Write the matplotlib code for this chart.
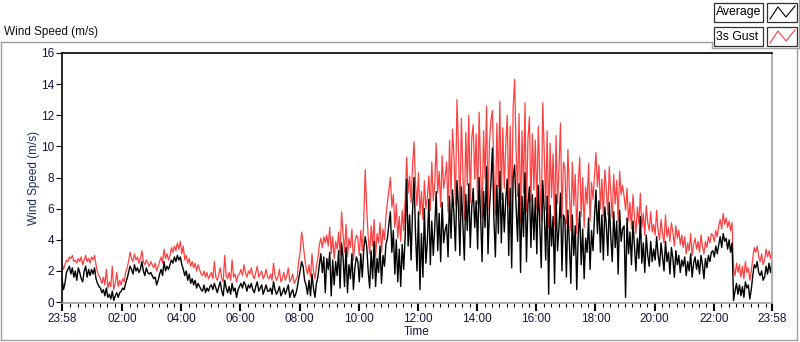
import numpy as np
import matplotlib.pyplot as plt
from matplotlib.lines import Line2D
from matplotlib.patches import Rectangle

plt.rcParams['font.family'] = ['Liberation Sans', 'DejaVu Sans']

# 3 minute samples starting at 23:58, one row per hour
gust = [
    2.5, 2.1, 2.4, 2.7, 2.6, 2.9, 2.8, 3.0, 2.6, 2.7, 2.5, 2.8, 2.6, 2.9, 2.4, 2.7, 3.0, 2.6, 2.8, 2.5,
    2.9, 2.7, 3.0, 2.4, 1.9, 1.7, 1.5, 1.2, 1.6, 1.1, 2.1, 0.9, 1.3, 1.0, 2.3, 0.8, 1.2, 1.9, 1.0, 1.4,
    1.1, 1.5, 1.3, 1.9, 2.2, 2.6, 3.2, 2.8, 2.6, 3.1, 2.7, 2.9, 2.5, 2.8, 3.3, 2.6, 2.4, 2.7, 2.5, 2.3,
    2.6, 2.4, 2.2, 2.5, 2.0, 2.3, 2.6, 2.9, 2.5, 3.4, 2.8, 3.1, 2.7, 3.0, 3.5, 3.2, 3.6, 3.3, 3.8, 3.4,
    3.9, 3.1, 3.6, 2.7, 3.0, 2.5, 2.8, 2.3, 2.6, 2.2, 2.5, 2.0, 2.4, 2.1, 1.8, 1.7, 2.0, 1.6, 1.9, 1.5,
    1.7, 1.9, 1.5, 2.6, 1.6, 1.4, 1.8, 2.2, 1.5, 1.3, 3.0, 1.7, 1.5, 1.9, 1.4, 2.7, 1.6, 1.8, 1.3, 1.7,
    1.8, 2.1, 1.7, 2.4, 1.9, 1.6, 2.0, 1.8, 2.2, 1.7, 1.5, 1.9, 2.3, 1.6, 1.8, 2.0, 1.5, 1.7, 2.1, 1.6,
    1.5, 1.8, 1.4, 2.5, 1.7, 1.4, 1.6, 2.1, 1.3, 1.5, 1.9, 1.4, 1.7, 2.2, 1.3, 1.5, 1.8, 1.2, 1.4, 1.6,
    2.6, 3.2, 4.5, 3.8, 2.9, 2.2, 1.8, 2.4, 1.6, 3.1, 2.0, 1.5, 2.3, 2.8, 3.7, 4.1, 3.5, 4.2, 3.8, 4.3,
    3.6, 4.8, 3.1, 4.2, 2.8, 3.9, 3.4, 4.5, 3.0, 5.8, 4.4, 3.2, 5.0, 2.9, 4.1, 3.5, 4.7, 2.7, 3.8, 4.3,
    4.1, 3.0, 4.6, 3.3, 5.2, 8.5, 6.0, 4.2, 3.1, 4.9, 3.6, 5.3, 2.9, 4.4, 3.8, 5.1, 3.2, 4.7, 4.0, 5.5,
    6.4, 7.2, 8.0, 6.1, 6.9, 4.8, 6.3, 4.1, 5.5, 3.9, 5.9, 4.6, 6.6, 9.3, 7.0, 8.1, 6.4, 8.8, 10.3, 7.6,
    6.2, 8.3, 5.6, 7.1, 5.3, 7.8, 6.0, 6.7, 8.1, 5.9, 9.0, 6.5, 7.6, 10.2, 7.0, 8.4, 6.1, 9.4, 7.3, 8.0,
    9.0, 5.8, 10.4, 6.9, 11.1, 9.3, 6.2, 13.0, 10.0, 5.6, 11.8, 8.4, 5.3, 10.9, 7.5, 12.0, 6.4, 10.5, 11.4, 7.9,
    10.8, 6.3, 12.2, 8.5, 5.4, 11.0, 7.9, 12.6, 5.9, 10.3, 11.7, 12.3, 8.2, 5.6, 11.5, 7.4, 12.9, 6.6, 11.2, 7.3,
    10.1, 12.0, 6.2, 11.3, 5.3, 12.5, 14.3, 9.7, 6.8, 12.1, 5.1, 11.0, 7.0, 12.8, 5.8, 10.5, 11.9, 6.4, 10.8, 7.2,
    10.4, 6.0, 11.3, 8.1, 5.2, 12.8, 9.7, 5.9, 11.0, 4.8, 10.2, 6.7, 9.5, 4.9, 10.7, 6.3, 8.6, 11.5, 5.4, 9.0,
    8.6, 5.0, 9.8, 7.1, 4.6, 9.0, 6.2, 8.2, 4.4, 7.6, 9.3, 5.5, 8.0, 4.8, 7.4, 6.3, 8.9, 5.2, 7.7, 6.6,
    8.1, 9.6, 7.4, 8.8, 6.0, 7.9, 5.5, 8.5, 7.2, 5.6, 8.7, 7.0, 5.4, 8.2, 6.3, 7.8, 5.2, 8.4, 6.9, 7.5,
    6.8, 5.9, 7.3, 5.2, 6.4, 4.7, 6.9, 5.5, 4.4, 6.1, 5.0, 7.0, 4.8, 5.7, 4.3, 6.2, 5.1, 4.6, 5.8, 4.5,
    5.0, 4.3, 5.9, 4.6, 4.0, 5.3, 4.4, 3.8, 5.6, 4.2, 4.8, 3.9, 5.1, 4.5, 3.6, 4.9, 4.1, 4.6, 3.7, 4.3,
    3.5, 4.2, 3.1, 3.8, 3.3, 4.4, 3.0, 3.7, 4.1, 3.4, 3.9, 3.2, 4.3, 3.6, 3.1, 3.9, 3.5, 4.2, 3.8, 4.4,
    4.3, 3.9, 4.6, 4.2, 4.9, 5.3, 4.7, 5.7, 5.0, 5.4, 4.8, 5.2, 4.6, 5.1, 2.2, 1.7, 2.5, 1.9, 2.4, 1.6,
    2.3, 1.5, 2.6, 1.9, 2.2, 1.4, 2.0, 2.8, 3.5, 3.2, 3.6, 2.9, 2.6, 3.1, 2.4, 2.7, 3.4, 2.9, 3.3, 2.8,
    3.2,
]
average = [
    1.5, 0.8, 1.2, 1.9, 2.1, 2.3, 1.8, 2.2, 1.6, 2.0, 1.4, 2.2, 1.9, 1.5, 1.3, 2.0, 2.3, 1.6, 2.1, 1.7,
    2.1, 1.8, 2.2, 1.5, 1.2, 1.0, 0.9, 0.6, 0.8, 0.4, 0.9, 0.3, 0.5, 0.2, 0.7, 0.1, 0.4, 0.6, 0.3, 0.6,
    0.7, 0.9, 0.8, 1.2, 1.5, 1.9, 2.3, 2.1, 1.8, 2.4, 2.0, 2.2, 1.9, 2.1, 2.6, 2.0, 1.7, 2.2, 1.9, 1.8,
    1.9, 1.7, 1.5, 1.6, 1.1, 1.4, 1.8, 2.1, 1.7, 2.6, 2.0, 2.3, 2.1, 2.4, 2.7, 2.5, 2.9, 2.6, 3.0, 2.7,
    2.9, 2.4, 2.1, 1.7, 2.0, 1.4, 1.8, 1.2, 1.5, 1.1, 1.4, 0.9, 1.2, 1.0, 0.8, 0.7, 1.1, 0.6, 0.9, 0.7,
    1.0, 1.1, 0.8, 1.2, 0.9, 0.6, 1.0, 1.3, 0.7, 0.4, 1.4, 0.9, 0.6, 1.0, 0.5, 1.2, 0.7, 0.9, 0.3, 0.8,
    1.0, 1.2, 0.9, 1.3, 1.1, 0.7, 1.1, 0.9, 1.2, 0.8, 0.6, 1.0, 1.3, 0.7, 0.9, 1.1, 0.5, 0.8, 1.1, 0.7,
    0.7, 0.9, 0.5, 1.3, 0.8, 0.5, 0.7, 1.0, 0.4, 0.6, 0.9, 0.5, 0.8, 1.1, 0.3, 0.6, 0.8, 0.3, 0.5, 0.9,
    1.5, 2.0, 2.6, 2.3, 1.4, 1.1, 0.5, 1.4, 0.4, 1.8, 0.9, 0.3, 1.2, 1.6, 2.4, 3.1, 1.9, 2.9, 0.6, 2.8,
    2.1, 3.2, 0.4, 2.7, 1.1, 2.6, 1.7, 3.3, 0.9, 3.8, 2.9, 1.0, 3.5, 0.6, 2.4, 1.5, 3.1, 0.8, 2.2, 2.9,
    2.6, 1.3, 3.1, 1.6, 3.4, 4.2, 3.6, 2.0, 0.9, 3.3, 1.5, 3.9, 1.0, 2.8, 1.9, 3.6, 1.2, 3.0, 2.3, 3.7,
    4.1, 5.0, 5.8, 3.2, 4.6, 1.8, 4.0, 1.3, 3.4, 1.0, 3.7, 2.1, 4.2, 7.9, 3.6, 5.6, 2.7, 5.9, 8.0, 4.4,
    2.0, 5.8, 0.8, 4.4, 1.6, 6.0, 2.5, 3.9, 6.6, 2.4, 5.2, 3.0, 4.8, 7.1, 3.3, 5.7, 2.6, 6.4, 3.8, 4.6,
    5.0, 2.9, 6.8, 4.1, 7.2, 5.6, 3.3, 7.8, 6.2, 3.0, 7.4, 5.1, 2.7, 6.9, 4.6, 7.6, 3.5, 6.1, 7.3, 4.8,
    6.5, 3.4, 8.0, 5.5, 2.6, 7.1, 4.8, 8.7, 3.1, 6.0, 7.7, 9.9, 5.3, 2.9, 7.5, 4.4, 8.4, 3.8, 7.0, 4.5,
    6.6, 7.9, 3.0, 7.3, 2.2, 8.0, 8.8, 6.1, 3.9, 7.6, 1.9, 6.8, 4.2, 8.3, 2.6, 6.3, 7.4, 3.5, 6.9, 4.0,
    6.7, 3.1, 7.5, 5.0, 2.2, 7.8, 5.9, 2.7, 6.8, 0.5, 6.2, 3.6, 5.5, 1.2, 6.9, 3.3, 4.8, 7.0, 2.0, 5.6,
    5.3, 1.6, 5.9, 3.8, 1.2, 5.6, 3.0, 4.9, 0.8, 4.3, 5.8, 2.4, 4.7, 1.5, 4.1, 3.2, 5.4, 2.1, 4.6, 3.3,
    5.5, 7.2, 4.4, 6.5, 3.2, 5.6, 2.7, 6.1, 4.9, 3.0, 6.4, 4.2, 2.6, 5.8, 3.5, 5.2, 1.8, 5.9, 3.9, 4.7,
    4.9, 0.3, 5.4, 3.1, 4.5, 2.4, 5.2, 3.6, 2.0, 4.1, 2.8, 5.5, 2.5, 3.8, 1.9, 4.3, 3.0, 2.3, 3.9, 2.6,
    3.4, 2.7, 4.2, 3.0, 2.3, 3.8, 2.9, 2.0, 3.9, 2.6, 3.2, 1.8, 3.5, 2.8, 1.6, 3.3, 2.4, 3.0, 1.9, 2.7,
    2.3, 2.9, 1.7, 2.6, 2.0, 3.1, 1.6, 2.5, 2.9, 2.1, 2.7, 1.8, 3.0, 2.4, 1.5, 2.8, 2.2, 3.0, 2.6, 3.2,
    3.3, 2.9, 3.6, 3.1, 3.7, 4.2, 3.5, 4.4, 3.9, 4.1, 3.4, 4.0, 3.2, 3.8, 0.1, 0.7, 1.2, 0.5, 1.1, 0.4,
    1.0, 0.3, 1.3, 0.9, 1.1, 0.2, 0.8, 1.7, 2.4, 2.2, 2.6, 1.9, 1.7, 2.0, 1.4, 1.6, 2.3, 1.8, 2.5, 1.9,
    2.5,
]
step_min = 3
tick_pos = [0, 122, 242, 362, 482, 602, 722, 842, 962, 1082, 1202, 1322, 1440]
tick_labels = ['23:58', '02:00', '04:00', '06:00', '08:00', '10:00', '12:00',
               '14:00', '16:00', '18:00', '20:00', '22:00', '23:58']

W, H = 800, 342
fig = plt.figure(figsize=(W / 100, H / 100), dpi=100)


def fx(x):
    return x / W


def fy(y):
    return 1 - y / H


gray = '#a0a0a0'
txt = '#14143c'

# outer panel frame
for xs, ys in [([1, 712], [42, 42]), ([712, 712], [42, 48]), ([712, 799], [48, 48]),
               ([799, 799], [0, 48]), ([1, 1], [42, 340]), ([1, 797], [340, 340]),
               ([797, 797], [48, 340])]:
    fig.add_artist(Line2D([fx(x) for x in xs], [fy(y) for y in ys],
                          color=gray, lw=1.0))

fig.text(fx(4), fy(32), 'Wind Speed (m/s)', fontsize=8.5, color='#101010',
         va='center', ha='left')

# legend boxes
legend_items = [('Average', 'black', 3), ('3s Gust', '#ff3b3b', 27)]
for label, col, top in legend_items:
    fig.add_artist(Rectangle((fx(714), fy(top + 19)), fx(49), 19 / H,
                             facecolor='white', edgecolor='#303030', lw=0.9))
    fig.add_artist(Rectangle((fx(767), fy(top + 19)), fx(30), 19 / H,
                             facecolor='white', edgecolor='#303030', lw=0.9))
    fig.text(fx(716), fy(top + 9.5), label, fontsize=8.8, color='black',
             va='center', ha='left')
    zx = [770, 778, 786, 795]
    zy = [top + 16, top + 4, top + 14, top + 3]
    fig.add_artist(Line2D([fx(x) for x in zx], [fy(y) for y in zy],
                          color=col, lw=0.8))

ax = fig.add_axes([fx(62), fy(303), fx(710), 250 / H])
t = np.arange(len(gust)) * step_min
ax.plot(t, gust, color='#ff4040', lw=0.9)
ax.plot(t, average, color='black', lw=1.0)

ax.set_xlim(0, 1440)
ax.set_ylim(-0.06, 16)
ax.set_yticks(range(0, 17, 2))
ax.set_xticks(tick_pos)
ax.set_xticklabels(tick_labels)
minor = [m for m in range(2, 1440, 15) if all(abs(m - p) > 3 for p in tick_pos)]
ax.set_xticks(minor, minor=True)

for s in ['top', 'left']:
    ax.spines[s].set_color('black')
    ax.spines[s].set_linewidth(1.2)
for s in ['right', 'bottom']:
    ax.spines[s].set_color(gray)
    ax.spines[s].set_linewidth(1.2)

ax.tick_params(axis='y', length=4, width=0.8, color='black', labelsize=8.5,
               labelcolor=txt, pad=1.5)
ax.tick_params(axis='x', which='major', length=6, width=1.5, color='black',
               labelsize=8.5, labelcolor=txt, pad=1)
ax.tick_params(axis='x', which='minor', length=3, width=0.8, color='black')

ax.set_xlabel('Time', fontsize=8.5, color=txt, labelpad=1)
ax.set_ylabel('Wind Speed (m/s)', fontsize=8.5, color='#1c2a5c', labelpad=1)

fig.savefig('out.png', dpi=100)
